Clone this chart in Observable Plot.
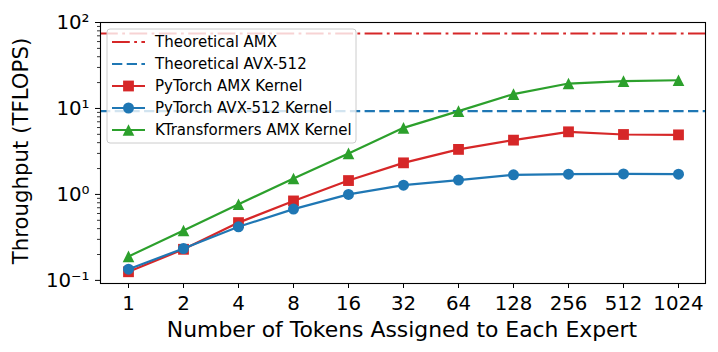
<!DOCTYPE html>
<html><head><meta charset="utf-8">
<script src="https://cdn.jsdelivr.net/npm/d3@7"></script>
<script src="https://cdn.jsdelivr.net/npm/@observablehq/plot@0.6"></script>
<style>body{margin:0;background:#fff;} svg{font-family:"DejaVu Sans",sans-serif;}</style>
</head><body><div id="chart"></div><script>
const tokens = ["1","2","4","8","16","32","64","128","256","512","1024"];
const pytorchAMX = [0.126,0.23,0.47,0.84,1.45,2.33,3.34,4.28,5.35,4.98,4.93];
const pytorchAVX = [0.135,0.235,0.42,0.675,1.0,1.28,1.47,1.69,1.72,1.73,1.72];
const ktAMX = [0.19,0.38,0.77,1.53,3.0,5.95,9.3,14.7,19.5,20.8,21.3];
const theoreticalAMX = 74.5;
const theoreticalAVX = 9.3;
const yMajorTicks = [0.1,1,10,100];
const yTickLabels = ["10⁻¹","10⁰","10¹","10²"];
const yMinorTicks = [0.2,0.3,0.4,0.5,0.6,0.7,0.8,0.9,2,3,4,5,6,7,8,9,20,30,40,50,60,70,80,90];

const RED = "#d62728", BLUE = "#1f77b4", GREEN = "#2ca02c";
// matplotlib-like markers: circle diameter, square side and triangle width/height all equal 2r
const symbols = {
  circle: {draw(ctx, size){ const r = Math.sqrt(size/Math.PI); ctx.moveTo(r,0); ctx.arc(0,0,r,0,2*Math.PI); }},
  square: {draw(ctx, size){ const r = Math.sqrt(size/Math.PI); ctx.rect(-r,-r,2*r,2*r); }},
  triangle: {draw(ctx, size){ const r = Math.sqrt(size/Math.PI); ctx.moveTo(0,-r); ctx.lineTo(r,r); ctx.lineTo(-r,r); ctx.closePath(); }}
};
const series = [
  {name:"PyTorch AMX Kernel", values:pytorchAMX, color:RED, symbol:"square", r:5.4},
  {name:"PyTorch AVX-512 Kernel", values:pytorchAVX, color:BLUE, symbol:"circle", r:5.5},
  {name:"KTransformers AMX Kernel", values:ktAMX, color:GREEN, symbol:"triangle", r:5.8}
];
const rows = s => tokens.map((t,i)=>({x:t, y:s.values[i]}));
const AMX_DASH = "17.8,4.4,2.8,4.4";
const AVX_DASH = "10.3,4.4";
const LW = 2.2;

const marks = [
  Plot.ruleY([theoreticalAMX], {stroke:RED, strokeWidth:LW, strokeDasharray:AMX_DASH}),
  Plot.ruleY([theoreticalAVX], {stroke:BLUE, strokeWidth:LW, strokeDasharray:AVX_DASH})
];
for (const s of series) {
  marks.push(Plot.line(rows(s), {x:"x", y:"y", stroke:s.color, strokeWidth:LW}));
  marks.push(Plot.dot(rows(s), {x:"x", y:"y", fill:s.color, stroke:"none", symbol:symbols[s.symbol], r:s.r}));
}
marks.push(
  Plot.axisX({tickSize:5, tickPadding:7, fontSize:19.8, label:null, stroke:"black"}),
  Plot.axisY({ticks:yMajorTicks, tickFormat:(d)=>yTickLabels[yMajorTicks.indexOf(d)], tickSize:5, tickPadding:6, fontSize:19.8, label:null}),
  Plot.axisY({ticks:yMinorTicks, tickFormat:()=>"", tickSize:3, label:null, strokeWidth:0.8}),
  Plot.frame({stroke:"black", strokeWidth:1.1})
);

const chart = Plot.plot({
  width:718, height:352,
  marginLeft:100, marginRight:13, marginTop:22, marginBottom:69,
  style:{fontFamily:"DejaVu Sans", color:"black", background:"white", overflow:"visible"},
  x:{type:"point", domain:tokens, padding:0.5},
  y:{type:"log", domain:[0.092,100]},
  marks
});
document.getElementById("chart").appendChild(chart);

const svg = d3.select(chart);
svg.append("text").attr("transform","translate(28,151) rotate(-90)")
  .attr("text-anchor","middle").attr("font-size",21.3).attr("fill","black")
  .text("Throughput (TFLOPS)");
svg.append("text").attr("x",402).attr("y",337)
  .attr("text-anchor","middle").attr("font-size",21.9).attr("fill","black")
  .text("Number of Tokens Assigned to Each Expert");

// legend
const legendItems = [
  {name:"Theoretical AMX", color:RED, dash:AMX_DASH},
  {name:"Theoretical AVX-512", color:BLUE, dash:AVX_DASH},
  ...series.map(s=>({name:s.name, color:s.color, symbol:s.symbol, r:s.r}))
];
const lg = svg.append("g");
lg.append("rect").attr("x",107).attr("y",29).attr("width",249).attr("height",114).attr("rx",3)
  .attr("fill","white").attr("fill-opacity",0.8).attr("stroke","#cccccc").attr("stroke-width",1);
legendItems.forEach((it,i)=>{
  const y = 42 + i*22;
  lg.append("line").attr("x1",112).attr("x2",145).attr("y1",y).attr("y2",y)
    .attr("stroke",it.color).attr("stroke-width",LW).attr("stroke-dasharray",it.dash||null);
  if (it.symbol) {
    lg.append("path").attr("transform",`translate(128.5,${y})`)
      .attr("d", d3.symbol(symbols[it.symbol], Math.PI*it.r*it.r)()).attr("fill",it.color);
  }
  lg.append("text").attr("x",155).attr("y",y).attr("dy","0.35em").attr("text-anchor","start")
    .attr("font-size",15).attr("fill","black").text(it.name);
});
</script></body></html>
